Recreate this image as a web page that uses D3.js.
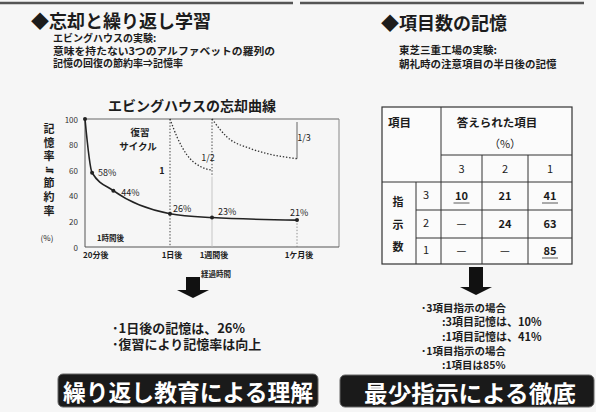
<!DOCTYPE html>
<html><head><meta charset="utf-8">
<script src="https://cdn.jsdelivr.net/npm/d3@7"></script>
<style>
body{margin:0;background:#f6f6f6}
svg{display:block}
text{font-family:"Noto Sans CJK JP","Noto Sans",sans-serif;fill:#1c1c1c}
</style>
</head><body>
<svg id="c" width="596" height="412"></svg>
<script>
// ---------- data ----------
const yTicks = [0, 20, 40, 60, 80, 100];
const xTickHours = [0, 24, 168, 720];
const xTickLabels = ["20分後", "1日後", "1週間後", "1ケ月後"];
const curveHours = [0, 2, 8, 24, 168, 720];
const curveValues = [100, 58, 44, 26, 23, 21];
const curveLabels = ["", "58%", "44%", "26%", "23%", "21%"];
const review1Hours = [24, 48, 82, 127, 168];
const review1Values = [100, 86, 72, 63, 60];
const review2Hours = [168, 265, 415, 525, 720];
const review2Values = [100, 86, 77, 73, 69];
const review3Values = [100, 69];
const reviewLabels = ["1", "1/2", "1/3"];
const colHeaders = ["3", "2", "1"];
const rowHeaders = ["3", "2", "1"];
const tableValues = [["10", "21", "41"], ["—", "24", "63"], ["—", "—", "85"]];
const underlined = [[true, false, true], [false, false, false], [false, false, true]];

// ---------- layout ----------
const svg = d3.select("#c");
const plot = {left: 85, right: 339, top: 119, bottom: 247};
const x = d3.scaleLinear().domain(xTickHours).range([85, 170, 212, 297]);
const y = d3.scaleLinear().domain([0, 100]).range([plot.bottom, plot.top]);

// header lines
svg.append("line").attr("x1", 0).attr("x2", 293).attr("y1", 3).attr("y2", 3).attr("stroke", "#555").attr("stroke-width", 2.5);
svg.append("line").attr("x1", 300).attr("x2", 584).attr("y1", 3).attr("y2", 3).attr("stroke", "#555").attr("stroke-width", 2.5);

function txt(s, tx, ty, size, opts = {}) {
  const t = svg.append("text").attr("x", tx).attr("y", ty).attr("font-size", size)
    .attr("font-weight", opts.weight || "bold").attr("dominant-baseline", "central")
    .attr("text-anchor", opts.anchor || "start").text(s);
  if (opts.fill) t.style("fill", opts.fill);
  if (opts.len) t.attr("textLength", opts.len).attr("lengthAdjust", "spacingAndGlyphs");
  return t;
}

// left header
txt("◆忘却と繰り返し学習", 31, 20, 18);
txt("エビングハウスの実験:", 53, 37, 10);
txt("意味を持たない3つのアルファベットの羅列の", 53, 50, 10, {len: 222});
txt("記憶の回復の節約率⇒記憶率", 53, 62, 10);
// right header
txt("◆項目数の記憶", 381, 22, 18);
txt("東芝三重工場の実験:", 399, 49, 10.5);
txt("朝礼時の注意項目の半日後の記憶", 399, 63, 10.5);

// ---------- chart ----------
txt("エビングハウスの忘却曲線", 192, 105, 14, {anchor: "middle"});

const g = svg.append("g");
// frame
g.append("line").attr("x1", plot.left).attr("x2", plot.right).attr("y1", y(100)).attr("y2", y(100)).attr("stroke", "#666").attr("stroke-width", 1);
g.append("line").attr("x1", plot.right).attr("x2", plot.right).attr("y1", y(100)).attr("y2", y(0)).attr("stroke", "#888").attr("stroke-width", 1);
g.append("line").attr("x1", plot.left).attr("x2", plot.right).attr("y1", y(0)).attr("y2", y(0)).attr("stroke", "#555").attr("stroke-width", 1);
g.append("line").attr("x1", plot.left).attr("x2", plot.left).attr("y1", y(0)).attr("y2", y(100)).attr("stroke", "#555").attr("stroke-width", 1);

// y ticks
yTicks.forEach(v => txt(String(v), 78, y(v), 8, {anchor: "end", weight: "normal", fill: "#333"}));
// x tick labels
xTickHours.forEach((h, i) => txt(xTickLabels[i], i === 0 ? x(h) - 2 : x(h) + 2, 254, 8, {anchor: i === 0 ? "start" : "middle"}));
txt("経過時間", 216, 273, 7.5, {anchor: "middle"});
txt("1時間後", 97, 237, 7.5);

// y axis title (vertical)
const yTitle = ["記", "憶", "率", "≒", "節", "約", "率"];
yTitle.forEach((c, i) => txt(c, 49, 128 + i * 13.6, 11, {anchor: "middle"}));
txt("(%)", 47, 237, 8, {anchor: "middle", weight: "normal"});

// vertical guide lines
const dots = "1.4,1.8";
g.append("line").attr("x1", x(24)).attr("x2", x(24)).attr("y1", y(100)).attr("y2", y(0)).attr("stroke", "#444").attr("stroke-dasharray", dots).attr("stroke-width", 1);
g.append("line").attr("x1", x(168)).attr("x2", x(168)).attr("y1", y(100)).attr("y2", y(55)).attr("stroke", "#444").attr("stroke-dasharray", dots).attr("stroke-width", 1);
g.append("line").attr("x1", x(168)).attr("x2", x(168)).attr("y1", y(55)).attr("y2", y(0)).attr("stroke", "#bbb").attr("stroke-width", 0.8);
g.append("line").attr("x1", x(720)).attr("x2", x(720)).attr("y1", y(review3Values[0]) + 3).attr("y2", y(review3Values[1])).attr("stroke", "#555").attr("stroke-width", 0.9);
g.append("line").attr("x1", x(720)).attr("x2", x(720)).attr("y1", y(21)).attr("y2", y(0)).attr("stroke", "#777").attr("stroke-dasharray", dots).attr("stroke-width", 0.8);

// review curves
const line = d3.line().x(d => x(d[0])).y(d => y(d[1])).curve(d3.curveMonotoneX);
g.append("path").attr("d", line(d3.zip(review1Hours, review1Values))).attr("fill", "none").attr("stroke", "#333").attr("stroke-width", 1.3).attr("stroke-dasharray", dots);
g.append("path").attr("d", line(d3.zip(review2Hours, review2Values))).attr("fill", "none").attr("stroke", "#333").attr("stroke-width", 1.3).attr("stroke-dasharray", dots);

txt(reviewLabels[0], 162, 170, 9, {anchor: "middle"});
txt(reviewLabels[1], 208, 157, 9, {anchor: "middle", weight: "normal"});
txt(reviewLabels[2], 304, 137, 9, {anchor: "middle", weight: "normal"});
txt("復習", 140, 132, 9.5, {anchor: "middle"});
txt("サイクル", 138, 146, 9.5, {anchor: "middle"});

// forgetting curve
g.append("path").attr("d", line(d3.zip(curveHours, curveValues))).attr("fill", "none").attr("stroke", "#222").attr("stroke-width", 1.6);
g.selectAll("circle.p").data(d3.zip(curveHours, curveValues)).join("circle")
  .attr("cx", d => x(d[0])).attr("cy", d => y(d[1])).attr("r", 2).attr("fill", "#222");
const lblOff = [[0, 0], [6, 0], [8, 2], [3, -5], [6, -6], [-7, -8]];
curveLabels.forEach((s, i) => { if (s) txt(s, x(curveHours[i]) + lblOff[i][0], y(curveValues[i]) + lblOff[i][1], 9, {weight: "normal"}); });

// arrows
function arrow(cx, top, shaftBottom, tip) {
  svg.append("path").attr("fill", "#111")
    .attr("d", `M${cx - 7},${top}H${cx + 7}V${shaftBottom}H${cx + 16}L${cx},${tip}L${cx - 16},${shaftBottom}H${cx - 7}Z`);
}
arrow(193, 277, 290, 298);
txt("･1日後の記憶は、26%", 112, 327, 13);
txt("･復習により記憶率は向上", 112, 343, 13);

// ---------- table ----------
const cols = [382, 416, 441, 482, 528, 572];
const rows = [107, 155, 182, 210, 238, 264];
const st = "#333";
function L(x1, y1, x2, y2, w = 1) { svg.append("line").attr("x1", x1).attr("y1", y1).attr("x2", x2).attr("y2", y2).attr("stroke", st).attr("stroke-width", w); }
svg.append("rect").attr("x", cols[0]).attr("y", rows[0]).attr("width", cols[5] - cols[0]).attr("height", rows[5] - rows[0]).attr("fill", "#fbfbfb").attr("stroke", st).attr("stroke-width", 1.2);
L(cols[2], rows[0], cols[2], rows[5]);
L(cols[1], rows[2], cols[1], rows[5]);
L(cols[3], rows[1], cols[3], rows[5]);
L(cols[4], rows[1], cols[4], rows[5]);
L(cols[2], rows[1], cols[5], rows[1]);
L(cols[0], rows[2], cols[5], rows[2]);
L(cols[1], rows[3], cols[5], rows[3]);
L(cols[1], rows[4], cols[5], rows[4]);

txt("項目", 388, 122, 11.5);
txt("答えられた項目", 497, 122, 11.5, {anchor: "middle"});
txt("（%）", 505, 143, 11, {anchor: "middle", weight: "normal"});
const colC = [0, 1, 2].map(i => (cols[i + 2] + cols[i + 3]) / 2);
const rowC = [0, 1, 2].map(i => (rows[i + 2] + rows[i + 3]) / 2);
colHeaders.forEach((s, i) => txt(s, colC[i], 168, 11, {anchor: "middle", weight: "normal"}));
rowHeaders.forEach((s, i) => txt(s, 426, rowC[i] - 2, 11, {anchor: "middle", weight: "normal"}));
["指", "示", "数"].forEach((c, i) => txt(c, 398, 201 + i * 22.5, 11, {anchor: "middle"}));
tableValues.forEach((row, r) => row.forEach((v, c) => {
  txt(v, colC[c], rowC[r] - 1, 11, {anchor: "middle", weight: v === "—" ? "normal" : "bold"});
  if (underlined[r][c]) L(colC[c] - 8, rowC[r] + 7, colC[c] + 8, rowC[r] + 7, 0.8);
}));

arrow(476, 267, 287, 295);
txt("･3項目指示の場合", 421, 307, 10.5);
txt(":3項目記憶は、10%", 442, 321, 11);
txt(":1項目記憶は、41%", 442, 336, 11);
txt("･1項目指示の場合", 421, 350, 10.5);
txt(":1項目は85%", 442, 364, 10.5);

// ---------- banners ----------
svg.append("rect").attr("x", 58).attr("y", 374).attr("width", 260).attr("height", 33).attr("rx", 5).attr("fill", "#1a1a1a").attr("stroke", "#666").attr("stroke-width", 1);
txt("繰り返し教育による理解", 188, 391, 23, {anchor: "middle", fill: "#fff", len: 250});
svg.append("rect").attr("x", 340).attr("y", 375).attr("width", 254).attr("height", 32).attr("rx", 5).attr("fill", "#1a1a1a").attr("stroke", "#666").attr("stroke-width", 1);
txt("最少指示による徹底", 470, 392, 23, {anchor: "middle", fill: "#fff", len: 212});
</script>
</body></html>
